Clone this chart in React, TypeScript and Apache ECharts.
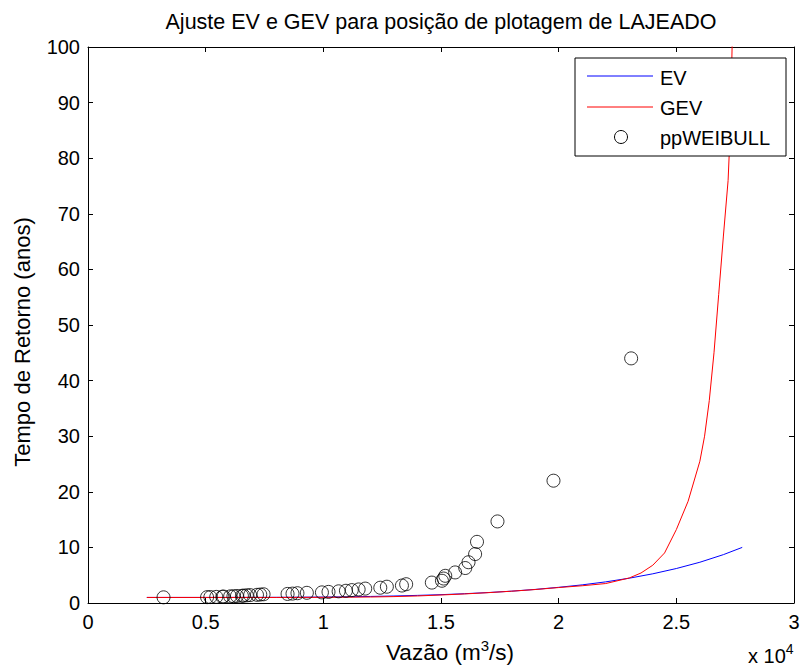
import React, { useEffect, useRef } from "react";
import * as echarts from "echarts";

// Weibull plotting positions (flow in m³/s, return period in years)
const ppFlow = [
  3210, 5060, 5200, 5450, 5710, 5760, 6040, 6180, 6330, 6540, 6610, 6750, 6890, 7180, 7320, 7460,
  8480, 8690, 8900, 9300, 9940, 10220, 10650, 10960, 11210, 11500, 11780, 12420, 12700, 13340, 13520,
  14610, 15040, 15110, 15180, 15600, 16030, 16170, 16450, 16530, 17400, 19780, 23080,
];
const ppReturn = [
  1.02, 1.05, 1.07, 1.1, 1.13, 1.16, 1.19, 1.22, 1.26, 1.29, 1.33, 1.38, 1.42, 1.47, 1.52, 1.57,
  1.63, 1.69, 1.76, 1.83, 1.91, 2.0, 2.1, 2.2, 2.32, 2.44, 2.59, 2.75, 2.93, 3.14, 3.38,
  3.67, 4.0, 4.4, 4.89, 5.5, 6.29, 7.33, 8.8, 11, 14.67, 22, 44,
];

// EV (Gumbel) fitted curve
const evFlow = [2500, 5000, 8000, 10000, 11000, 12000, 13000, 14000, 15000, 16000, 17000, 18000, 19000, 20000, 21000, 22000, 23000, 24000, 25000, 26000, 27000, 27800];
const evReturn = [1.0, 1.0, 1.02, 1.07, 1.11, 1.18, 1.26, 1.37, 1.5, 1.67, 1.88, 2.13, 2.44, 2.82, 3.26, 3.8, 4.46, 5.25, 6.2, 7.33, 8.7, 10.0];

// GEV fitted curve
const gevFlow = [2500, 5000, 8000, 10000, 12000, 13000, 14000, 15000, 16000, 17000, 18000, 19000, 20000, 21000, 22000, 23000, 23500, 24000, 24500, 25000, 25500, 26000, 26200, 26400, 26600, 26800, 27000, 27200, 27300, 27370, 27400];
const gevReturn = [1.0, 1.0, 1.0, 1.02, 1.08, 1.15, 1.27, 1.44, 1.63, 1.86, 2.12, 2.42, 2.78, 3.1, 3.5, 4.5, 5.4, 6.8, 9.0, 13.2, 18.3, 25.5, 30, 36.4, 45, 55.5, 66, 76, 86, 100, 130];

const FONT = "'Liberation Sans', Arial, Helvetica, sans-serif";

export default function App() {
  const ref = useRef<HTMLDivElement>(null);
  useEffect(() => {
    document.body.style.margin = "0";
    const chart = echarts.init(ref.current!, null, { renderer: "svg" });
    const evData = evFlow.map((x, i) => [x, evReturn[i]]);
    const gevData = gevFlow.map((x, i) => [x, gevReturn[i]]);
    const ppData = ppFlow.map((x, i) => [x, ppReturn[i]]);
    const axisCommon = {
      type: "value" as const,
      axisLine: { show: true, onZero: false, lineStyle: { color: "#000", width: 1 } },
      axisTick: { show: true, inside: true, length: 5, lineStyle: { color: "#000" } },
      splitLine: { show: false },
    };
    const LZ = 100;
    chart.setOption({
      animation: false,
      backgroundColor: "#fff",
      textStyle: { fontFamily: FONT },
      grid: { left: 88, right: 9, top: 47, bottom: 66, containLabel: false },
      xAxis: [
        {
          ...axisCommon,
          position: "bottom",
          min: 0,
          max: 30000,
          interval: 5000,
          axisLabel: {
            color: "#000",
            fontSize: 20,
            fontFamily: FONT,
            margin: 9,
            formatter: (v: number) => String(v / 10000),
          },
        },
        {
          ...axisCommon,
          position: "top",
          min: 0,
          max: 30000,
          interval: 5000,
          axisLabel: { show: false },
        },
      ],
      yAxis: [
        {
          ...axisCommon,
          position: "left",
          min: 0,
          max: 100,
          interval: 10,
          axisLabel: { color: "#000", fontSize: 20, fontFamily: FONT, margin: 8 },
        },
        {
          ...axisCommon,
          position: "right",
          min: 0,
          max: 100,
          interval: 10,
          axisLabel: { show: false },
        },
      ],
      series: [
        {
          name: "EV",
          type: "line",
          data: evData,
          showSymbol: false,
          smooth: false,
          lineStyle: { color: "#0000ff", width: 1 },
          itemStyle: { color: "#0000ff" },
          z: 2,
        },
        {
          name: "GEV",
          type: "line",
          data: gevData,
          showSymbol: false,
          smooth: false,
          clip: true,
          lineStyle: { color: "#ff0000", width: 1 },
          itemStyle: { color: "#ff0000" },
          z: 3,
        },
        {
          name: "ppWEIBULL",
          type: "scatter",
          data: ppData,
          symbol: "circle",
          symbolSize: 13,
          itemStyle: { color: "rgba(0,0,0,0)", borderColor: "#000", borderWidth: 1 },
          z: 4,
        },
      ],
      graphic: {
        elements: [
          {
            type: "text",
            x: 441,
            y: 22,
            style: {
              text: "Ajuste EV e GEV para posição de plotagem de LAJEADO",
              fontSize: 21.5,
              fontFamily: FONT,
              fill: "#000",
              textAlign: "center",
              textVerticalAlign: "middle",
            },
          },
          {
            type: "text",
            x: 22,
            y: 342,
            rotation: Math.PI / 2,
            style: {
              text: "Tempo de Retorno (anos)",
              fontSize: 22,
              fontFamily: FONT,
              fill: "#000",
              textAlign: "center",
              textVerticalAlign: "middle",
            },
          },
          {
            type: "text",
            x: 450,
            y: 652,
            style: {
              text: "Vazão (m{sup|3}/s)",
              fontSize: 22.5,
              fontFamily: FONT,
              fill: "#000",
              textAlign: "center",
              textVerticalAlign: "middle",
              rich: { sup: { fontSize: 15, fontFamily: FONT, padding: [0, 0, 14, 0] } },
            },
          },
          {
            type: "text",
            x: 748,
            y: 656,
            style: {
              text: "x 10{sup|4}",
              fontSize: 20,
              fontFamily: FONT,
              fill: "#000",
              textAlign: "left",
              textVerticalAlign: "middle",
              rich: { sup: { fontSize: 14, fontFamily: FONT, padding: [0, 0, 14, 0] } },
            },
          },
          {
            type: "rect",
            z: LZ,
            shape: { x: 575, y: 58, width: 211, height: 98 },
            style: { fill: "#fff", stroke: "#000", lineWidth: 1 },
          },
          {
            type: "line",
            z: LZ + 1,
            shape: { x1: 587, y1: 76, x2: 653, y2: 76 },
            style: { stroke: "#0000ff", lineWidth: 1 },
          },
          {
            type: "line",
            z: LZ + 1,
            shape: { x1: 587, y1: 107, x2: 653, y2: 107 },
            style: { stroke: "#ff0000", lineWidth: 1 },
          },
          {
            type: "circle",
            z: LZ + 1,
            shape: { cx: 621, cy: 137, r: 6.5 },
            style: { fill: "none", stroke: "#000", lineWidth: 1 },
          },
          {
            type: "text",
            z: LZ + 1,
            x: 660,
            y: 78,
            style: { text: "EV", fontSize: 20, fontFamily: FONT, fill: "#000", textVerticalAlign: "middle" },
          },
          {
            type: "text",
            z: LZ + 1,
            x: 660,
            y: 108,
            style: { text: "GEV", fontSize: 20, fontFamily: FONT, fill: "#000", textVerticalAlign: "middle" },
          },
          {
            type: "text",
            z: LZ + 1,
            x: 660,
            y: 138,
            style: { text: "ppWEIBULL", fontSize: 20, fontFamily: FONT, fill: "#000", textVerticalAlign: "middle" },
          },
        ],
      },
    });
    return () => chart.dispose();
  }, []);
  return (
    <div
      ref={ref}
      style={{ position: "fixed", left: 0, top: 0, width: 803, height: 669, background: "#fff" }}
    />
  );
}
